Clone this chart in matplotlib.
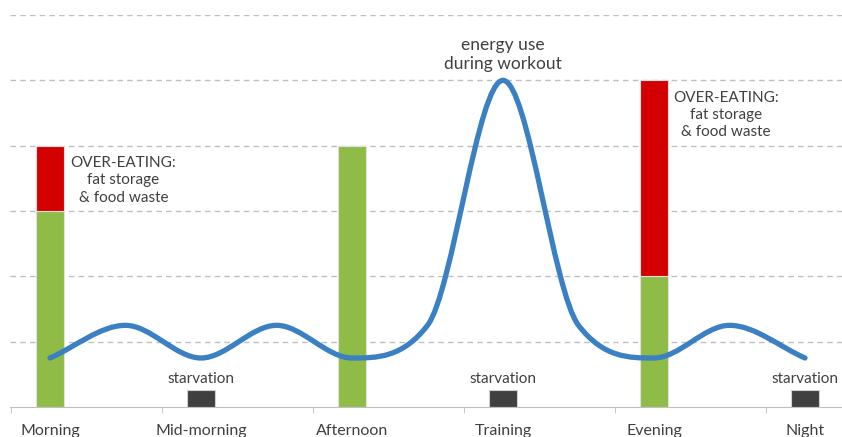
import matplotlib
matplotlib.use("Agg")
import matplotlib.pyplot as plt
from matplotlib.path import Path
from matplotlib.patches import PathPatch
import numpy as np

# Data
categories = ["Morning", "Mid-morning", "Afternoon", "Training", "Evening", "Night"]
food_needed = [3, 0, 4, 0, 2, 0]        # green part
food_excess = [1, 0, 0, 0, 3, 0]        # red part (over-eating)
starvation = [0, 0.26, 0, 0.26, 0, 0.26]  # small dark bars

energy_x = [0, 0.5, 1, 1.5, 2, 2.5, 3, 3.5, 4, 4.5, 5]
energy_y = [0.75, 1.25, 0.75, 1.25, 0.75, 1.25, 5, 1.25, 0.75, 1.25, 0.75]

GREEN = "#8fbb47"
RED = "#d40000"
DARK = "#404040"
BLUE = "#3a80c3"
TEXT = "#404040"

plt.rcParams["font.family"] = ["Lato", "DejaVu Sans"]


def smooth_path(xs, ys):
    # Catmull-Rom tangents, made monotone (flat at extrema, clamped to 3x secant),
    # drawn as cubic Bezier segments
    xs = np.asarray(xs, float)
    ys = np.asarray(ys, float)
    h = np.diff(xs)
    d = np.diff(ys) / h
    n = len(xs)
    m = np.zeros(n)
    m[0], m[-1] = d[0], d[-1]
    for k in range(1, n - 1):
        if d[k - 1] * d[k] > 0:
            v = (ys[k + 1] - ys[k - 1]) / (xs[k + 1] - xs[k - 1])
            lim = 3 * min(abs(d[k - 1]), abs(d[k]))
            m[k] = np.sign(v) * min(abs(v), lim)
    verts = [(xs[0], ys[0])]
    codes = [Path.MOVETO]
    for k in range(n - 1):
        verts += [(xs[k] + h[k] / 3, ys[k] + m[k] * h[k] / 3),
                  (xs[k + 1] - h[k] / 3, ys[k + 1] - m[k + 1] * h[k] / 3),
                  (xs[k + 1], ys[k + 1])]
        codes += [Path.CURVE4] * 3
    return Path(verts, codes)


fig = plt.figure(figsize=(8.42, 4.37), dpi=100)
ax = fig.add_axes([10 / 842, 30 / 437, 832 / 842, 392 / 437])

x = np.arange(len(categories))
width = 0.19

# Dashed horizontal gridlines
ax.set_ylim(0, 6)
ax.set_xlim(-0.265, 5.245)
ax.set_yticks(range(1, 7))
ax.yaxis.grid(True, linestyle=(0, (4, 3)), color="#bfbfbf", linewidth=1)
ax.set_axisbelow(True)

# Stacked bars
ax.bar(x, food_needed, width, color=GREEN, edgecolor="#e0e0e0", linewidth=0.8)
ax.bar(x, food_excess, width, bottom=food_needed, color=RED, edgecolor="#e0e0e0", linewidth=0.8)
ax.bar(x, starvation, width, color=DARK, edgecolor="#d0d0d0", linewidth=0.8)

# Smooth energy line
ax.add_patch(PathPatch(smooth_path(energy_x, energy_y), facecolor="none", edgecolor=BLUE,
                       linewidth=3.8, capstyle="round", joinstyle="round", zorder=4))

# Annotations
over_txt = "OVER-EATING:\nfat storage\n& food waste"
ax.text(0.135, 3.84, over_txt, ha="left", va="top", multialignment="center",
        fontsize=11, color=TEXT, linespacing=1.3)
ax.text(4.125, 4.84, over_txt, ha="left", va="top", multialignment="center",
        fontsize=11, color=TEXT, linespacing=1.3)
ax.text(3.0, 5.13, "energy use\nduring workout", ha="center", va="bottom",
        multialignment="center", fontsize=12.5, color=TEXT, linespacing=1.25)
for xi, s in zip(x, starvation):
    if s > 0:
        ax.text(xi, 0.43, "starvation", ha="center", va="center", fontsize=11, color=TEXT)

# Axes styling
for side in ["top", "right", "left"]:
    ax.spines[side].set_visible(False)
ax.spines["bottom"].set_color("#bfbfbf")
ax.tick_params(axis="y", length=0, labelleft=False)
ax.set_xticks(x)
ax.set_xticklabels(categories, fontsize=11.5, color=TEXT)
ax.tick_params(axis="x", length=0, pad=12)
ax.set_xticks(x - 0.258, minor=True)
ax.tick_params(axis="x", which="minor", length=4, color="#bfbfbf")

fig.savefig("out.png", dpi=100)
plt.close(fig)
